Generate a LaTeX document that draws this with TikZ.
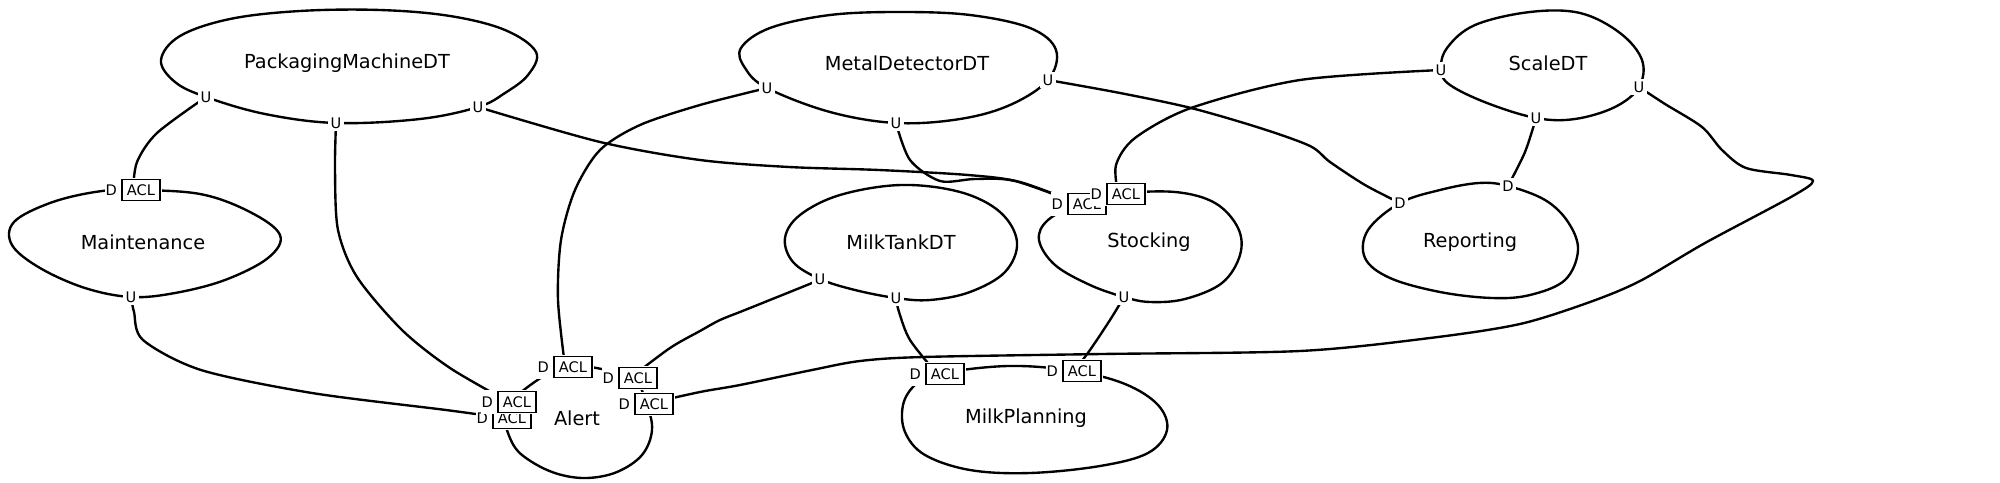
\documentclass[tikz,border=0pt]{standalone}
\usepackage{fontspec}
\setmainfont{DejaVu Sans}
\pgfdeclarelayer{bg}
\pgfsetlayers{bg,main}
\newcommand{\aclbox}{{\setlength{\fboxsep}{2.5pt}\setlength{\fboxrule}{0.7pt}\fbox{ACL}}}
\tikzset{
  ctx/.style={font=\fontsize{11}{13}\selectfont, inner sep=0pt},
  uport/.style={fill=white, inner sep=1.6pt, font=\fontsize{8.3}{9}\selectfont},
  dacl/.style={fill=white, inner sep=0.6pt, anchor=east, font=\fontsize{8.3}{9}\selectfont},
  lnk/.style={line width=1.35pt, line cap=round},
}
\begin{document}
\begin{tikzpicture}[x=0.02cm, y=-0.02cm]
\useasboundingbox (0,0) rectangle (2000,483);
% context names
\node[ctx] (pmt) at (347,63) {PackagingMachineDT};
\node[ctx] (mat) at (143,242) {Maintenance};
\node[ctx] (mdt) at (907,63) {MetalDetectorDT};
\node[ctx] (sct) at (1548,63) {ScaleDT};
\node[ctx] (mtt) at (901,242) {MilkTankDT};
\node[ctx] (stt) at (1149,242) {Stocking};
\node[ctx] (rpt) at (1470,242) {Reporting};
\node[ctx] (alt) at (577,418) {Alert};
\node[ctx] (mpt) at (1026,418) {MilkPlanning};
% U ports
\node[uport] (pmL) at (206,97) {U};
\node[uport] (pmM) at (336,123) {U};
\node[uport] (pmR) at (478,107) {U};
\node[uport] (mU) at (131,297) {U};
\node[uport] (mdL) at (767,88) {U};
\node[uport] (mdM) at (896,123) {U};
\node[uport] (mdR) at (1048,80) {U};
\node[uport] (scL) at (1441,70) {U};
\node[uport] (scM) at (1536,118) {U};
\node[uport] (scR) at (1639,87) {U};
\node[uport] (mtL) at (820,279) {U};
\node[uport] (mtM) at (896,298) {U};
\node[uport] (stU) at (1124,297) {U};
% D ports
\node[uport] (rpD1) at (1400,203) {D};
\node[uport] (rpD2) at (1508,186) {D};
% D + ACL ports
\node[dacl] (mD) at (162,190) {D\hspace{2.5pt}\aclbox};
\node[dacl] (al4) at (533,418) {D\hspace{2.5pt}\aclbox};
\node[dacl] (al3) at (538,402) {D\hspace{2.5pt}\aclbox};
\node[dacl] (al1) at (594,367) {D\hspace{2.5pt}\aclbox};
\node[dacl] (al2) at (659,378) {D\hspace{2.5pt}\aclbox};
\node[dacl] (al5) at (675,404) {D\hspace{2.5pt}\aclbox};
\node[dacl] (stA) at (1108,204) {D\hspace{2.5pt}\aclbox};
\node[dacl] (stB) at (1147,194) {D\hspace{2.5pt}\aclbox};
\node[dacl] (mp1) at (966,374) {D\hspace{2.5pt}\aclbox};
\node[dacl] (mp2) at (1103,371) {D\hspace{2.5pt}\aclbox};
\begin{pgfonlayer}{bg}
% context outlines
\draw[lnk] plot[smooth cycle, tension=0.6] coordinates {(pmL) (175,82) (161,60) (180,36) (230,19) (300,11) (380,10) (450,16) (505,30) (536,52) (528,75) (505,93) (pmR) (420,119) (pmM) (265,114)};
\draw[lnk] plot[smooth cycle, tension=0.6] coordinates {(mD) (200,194) (250,212) (280,235) (268,258) (225,280) (175,293) (mU) (85,288) (40,268) (12,245) (14,222) (50,203) (95,192)};
\draw[lnk] plot[smooth cycle, tension=0.6] coordinates {(mdL) (745,68) (741,48) (770,28) (830,15) (900,12) (970,15) (1030,28) (1056,50) (mdR) (1010,105) (960,119) (mdM) (830,112)};
\draw[lnk] plot[smooth cycle, tension=0.6] coordinates {(scL) (1447,48) (1475,25) (1530,12) (1580,13) (1620,33) (1642,60) (scR) (1615,107) (1575,119) (scM) (1487,103) (1450,85)};
\draw[lnk] plot[smooth cycle, tension=0.6] coordinates {(mtL) (793,262) (785,238) (800,215) (840,195) (901,185) (960,192) (1000,212) (1017,242) (1005,272) (970,292) (930,300) (mtM) (855,290)};
\draw[lnk] plot[smooth cycle, tension=0.6] coordinates {(stA) (stB) (1175,192) (1215,203) (1238,228) (1240,255) (1222,283) (1185,299) (1150,302) (stU) (1090,285) (1055,265) (1039,240) (1048,220)};
\draw[lnk] plot[smooth cycle, tension=0.6] coordinates {(rpD1) (1440,190) (1479,183) (rpD2) (1545,200) (1568,222) (1578,250) (1565,280) (1530,295) (1492,298) (1440,292) (1390,278) (1365,258) (1368,230)};
\draw[lnk] plot[smooth cycle, tension=0.6] coordinates {(mp1) (1008,366) (mp2) (1125,384) (1158,405) (1167,430) (1148,453) (1100,466) (1030,473) (970,470) (925,455) (905,432) (903,405) (915,385)};
\draw[lnk] plot[smooth cycle, tension=0.6] coordinates {(al4) (al3) (al1) (al2) (al5) (652,430) (642,455) (617,472) (587,478) (558,474) (532,462) (514,446)};
% relationships
\draw[lnk] plot[smooth] coordinates {(pmL) (157,133) (137,162) (mD)};
\draw[lnk] plot[smooth] coordinates {(pmM) (335,170) (338,230) (357,277) (402,330) (450,368) (al3)};
\draw[lnk] plot[smooth] coordinates {(pmR) (600,142) (700,160) (789,167) (879,170) (968,175) (1020,182) (stA)};
\draw[lnk] plot[smooth] coordinates {(mdL) (700,105) (640,125) (600,150) (575,190) (561,240) (558,300) (al1)};
\draw[lnk] plot[smooth] coordinates {(mdM) (910,160) (940,181) (975,179) (1015,181) (stA)};
\draw[lnk] plot[smooth] coordinates {(mdR) (1120,93) (1191,108) (1260,128) (1310,146) (1330,162) (1365,185) (rpD1)};
\draw[lnk] plot[smooth] coordinates {(scL) (1300,80) (1191,108) (1135,138) (1116,165) (stB)};
\draw[lnk] plot[smooth] coordinates {(scM) (1525,152) (rpD2)};
\draw[lnk] plot[smooth] coordinates {(scR) (1665,104) (1702,127) (1722,150) (1746,168) (1791,175) (1813,181) (1791,197) (1705,243) (1640,281) (1590,302) (1520,324) (1430,338) (1300,351) (1102,354) (923,357) (860,361) (812,370) (740,385) (700,392) (al5)};
\draw[lnk] plot[smooth] coordinates {(mtL) (812,283) (745,310) (720,320) (700,331) (670,348) (al2)};
\draw[lnk] plot[smooth] coordinates {(mtM) (899,312) (910,340) (mp1)};
\draw[lnk] plot[smooth] coordinates {(stU) (1110,320) (1090,350) (mp2)};
\draw[lnk] plot[smooth] coordinates {(mU) (134,312) (143,340) (201,370) (312,393) (446,410) (al4)};
\end{pgfonlayer}
\end{tikzpicture}
\end{document}
